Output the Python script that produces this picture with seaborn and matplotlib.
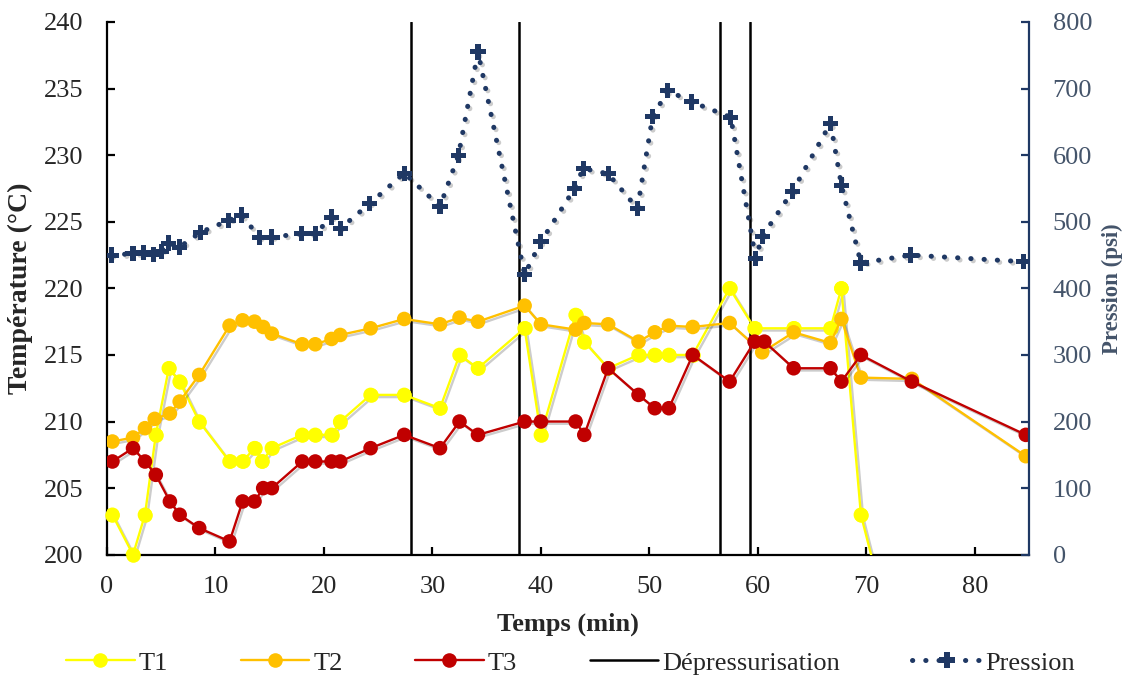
import matplotlib
matplotlib.use("Agg")
import matplotlib.pyplot as plt
import matplotlib.patheffects as pe
from matplotlib.lines import Line2D
import pandas as pd
import seaborn as sns

# Temperature series (°C) versus time (min)
t_T1 = [0.5, 2.4, 3.5, 4.5, 5.7, 6.7, 8.5, 11.3, 12.5, 13.6, 14.3, 15.2, 18.0, 19.2,
        20.7, 21.5, 24.3, 27.4, 30.7, 32.5, 34.2, 38.5, 40.0, 43.2, 44.0, 46.2, 49.0,
        50.5, 51.8, 54.0, 57.4, 59.7, 63.3, 66.7, 67.7, 69.5, 74.2]
T1 = [203, 200, 203, 209, 214, 213, 210, 207, 207, 208, 207, 208, 209, 209,
      209, 210, 212, 212, 211, 215, 214, 217, 209, 218, 216, 214, 215,
      215, 215, 215, 220, 217, 217, 217, 220, 203, 188]

t_T2 = [0.5, 2.4, 3.5, 4.4, 5.8, 6.7, 8.5, 11.3, 12.5, 13.6, 14.4, 15.2, 18.0, 19.2,
        20.7, 21.5, 24.3, 27.4, 30.7, 32.5, 34.2, 38.5, 40.0, 43.2, 44.0, 46.2, 49.0,
        50.5, 51.8, 54.0, 57.4, 60.4, 63.3, 66.7, 67.7, 69.5, 74.2, 84.7]
T2 = [208.5, 208.8, 209.5, 210.2, 210.6, 211.5, 213.5, 217.2, 217.6, 217.5, 217.1, 216.6,
      215.8, 215.8, 216.2, 216.5, 217.0, 217.7, 217.3, 217.8, 217.5, 218.7, 217.3, 216.9,
      217.4, 217.3, 216.0, 216.7, 217.2, 217.1, 217.4, 215.2, 216.7, 215.9, 217.7, 213.3,
      213.2, 207.4]

t_T3 = [0.5, 2.4, 3.5, 4.5, 5.8, 6.7, 8.5, 11.3, 12.5, 13.6, 14.4, 15.2, 18.0, 19.2,
        20.7, 21.5, 24.3, 27.4, 30.7, 32.5, 34.2, 38.5, 40.0, 43.2, 44.0, 46.2, 49.0,
        50.5, 51.8, 54.0, 57.4, 59.7, 60.6, 63.3, 66.7, 67.7, 69.5, 74.2, 84.7]
T3 = [207, 208, 207, 206, 204, 203, 202, 201, 204, 204, 205, 205, 207, 207,
      207, 207, 208, 209, 208, 210, 209, 210, 210, 210, 209, 214, 212,
      211, 211, 215, 213, 216, 216, 214, 214, 213, 215, 213, 209]

# Pressure (psi) versus time (min)
t_P = [0.4, 2.4, 3.4, 4.3, 5.0, 5.7, 6.7, 8.6, 11.2, 12.4, 14.1, 15.2, 17.9, 19.2,
       20.7, 21.5, 24.2, 27.4, 30.7, 32.4, 34.2, 38.5, 40.0, 43.1, 43.9, 46.2, 48.9,
       50.3, 51.7, 53.9, 57.5, 59.8, 60.4, 63.2, 66.7, 67.7, 69.5, 74.1, 84.5]
P = [450, 452, 454, 451, 455, 468, 462, 484, 502, 510, 476, 477, 482, 482,
     507, 490, 527, 573, 523, 600, 755, 421, 470, 550, 580, 572, 520,
     658, 697, 680, 657, 445, 478, 546, 648, 555, 438, 450, 440]

# Depressurisation instants (min)
t_depress = [28.0, 38.0, 56.5, 59.3]

x_ticks = list(range(0, 81, 10))
temp_ticks = list(range(200, 241, 5))
press_ticks = list(range(0, 801, 100))

C_T1, C_T2, C_T3 = "#FFFF00", "#FFC000", "#C00000"
C_P = "#1F3864"
C_AX2 = "#44546A"

sns.set_theme(style="white")
plt.rcParams["font.family"] = ["Liberation Serif", "DejaVu Serif"]
plt.rcParams["axes.unicode_minus"] = False

FS = 19
fig = plt.figure(figsize=(11.25, 6.76), dpi=100)
ax = fig.add_axes([0.0951, 0.1794, 0.8196, 0.7881])
ax2 = ax.twinx()

shadow = [pe.SimpleLineShadow(offset=(1.6, -1.6), shadow_color="black", alpha=0.2),
          pe.Normal()]

series = [(t_T1, T1, C_T1, 3), (t_T2, T2, C_T2, 4), (t_T3, T3, C_T3, 5)]
for t, v, col, z in series:
    df = pd.DataFrame({"t": t, "v": v})
    sns.lineplot(data=df, x="t", y="v", ax=ax, color=col, linewidth=1.7,
                 marker="o", markersize=10.5, markeredgewidth=0,
                 sort=False, estimator=None, zorder=z, path_effects=shadow)

# T1 markers sitting on the lower bound stay fully visible
df1 = pd.DataFrame({"t": t_T1, "v": T1})
df1 = df1[df1["v"] >= 200]
sns.scatterplot(data=df1, x="t", y="v", ax=ax, color=C_T1, s=110,
                linewidth=0, zorder=3.5, clip_on=False)

for td in t_depress:
    ax.axvline(td, color="black", linewidth=1.8, zorder=2)

dfp = pd.DataFrame({"t": t_P, "p": P})
sns.lineplot(data=dfp, x="t", y="p", ax=ax2, color=C_P, linewidth=3.6,
             linestyle=(0, (0.05, 2.6)), dash_capstyle="round",
             marker="P", markersize=11, markeredgewidth=0,
             sort=False, estimator=None, path_effects=shadow)

ax.set_xlim(0, 85)
ax.set_ylim(200, 240)
ax2.set_ylim(0, 800)
ax.set_xticks(x_ticks)
ax.set_yticks(temp_ticks)
ax2.set_yticks(press_ticks)

for a in (ax, ax2):
    a.grid(False)
    a.spines["top"].set_visible(False)
ax.spines["right"].set_visible(False)
ax.spines["left"].set_color("black")
ax.spines["bottom"].set_color("black")
ax.spines["left"].set_linewidth(1.6)
ax.spines["bottom"].set_linewidth(1.6)
ax2.spines["left"].set_visible(False)
ax2.spines["bottom"].set_visible(False)
ax2.spines["right"].set_color(C_P)
ax2.spines["right"].set_linewidth(1.6)

ax.tick_params(axis="x", direction="in", length=6, width=1.6, color="black",
               labelsize=FS, pad=15, bottom=True)
ax.tick_params(axis="y", direction="in", length=6, width=1.6, color="black",
               labelsize=FS, pad=17, left=True)
ax2.tick_params(axis="y", direction="in", length=6, width=1.6, color=C_P,
                labelsize=FS, labelcolor=C_AX2, pad=17, right=True)

ax.set_xlabel("Temps (min)", fontsize=FS, fontweight="bold", labelpad=11)
ax.set_ylabel("Température (°C)", fontsize=20, fontweight="bold", labelpad=8)
ax2.set_ylabel("Pression (psi)", fontsize=16.5, fontweight="bold", color=C_AX2,
               labelpad=7)

handles = [
    Line2D([], [], color=C_T1, lw=1.7, marker="o", markersize=10.5, markeredgewidth=0),
    Line2D([], [], color=C_T2, lw=1.7, marker="o", markersize=10.5, markeredgewidth=0),
    Line2D([], [], color=C_T3, lw=1.7, marker="o", markersize=10.5, markeredgewidth=0),
    Line2D([], [], color="black", lw=1.8),
    Line2D([], [], color=C_P, lw=3.6, linestyle=(0, (0.05, 2.6)), dash_capstyle="round",
           marker="P", markersize=11, markeredgewidth=0),
]
labels = ["T1", "T2", "T3", "Dépressurisation", "Pression"]
fig.legend(handles, labels, loc="lower center", bbox_to_anchor=(0.507, -0.033), ncol=5,
           frameon=False, fontsize=FS, handlelength=2.6, handletextpad=0.15,
           columnspacing=2.75)

fig.savefig("out.png", dpi=100)
